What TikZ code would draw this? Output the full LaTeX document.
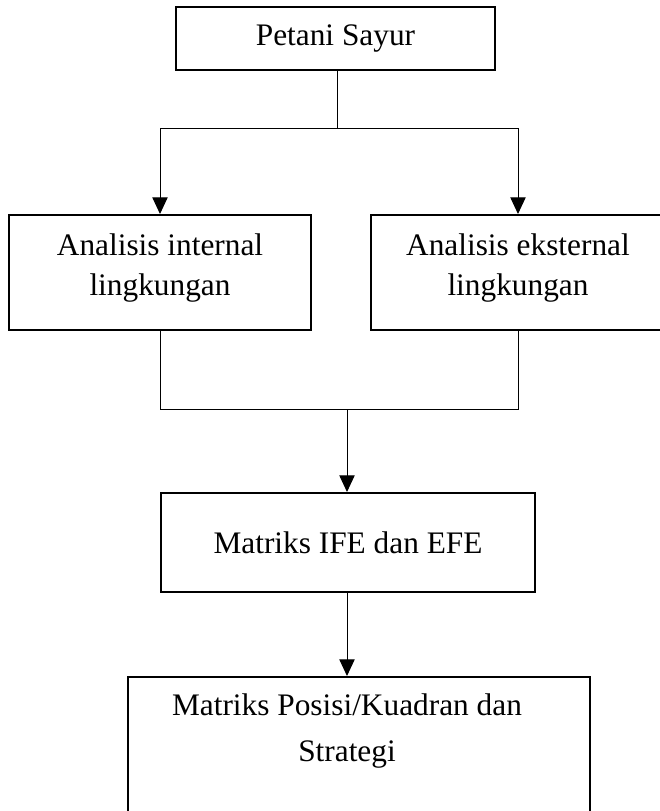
\documentclass[tikz,border=0pt]{standalone}
\usepackage{fontspec}
\setmainfont{Liberation Serif}
\usetikzlibrary{arrows.meta}
\begin{document}
\begin{tikzpicture}[x=0.75pt,y=-0.75pt,
  box/.style={draw, line width=1.5pt, inner sep=0pt, align=center,
    font=\fontsize{23.5pt}{30pt}\selectfont},
  conn/.style={line width=0.75pt},
  arr/.style={conn, -{Triangle[length=12.5pt,width=11.5pt]}},
  lbl/.style={inner sep=0pt, align=center,
    font=\fontsize{23.5pt}{34.5pt}\selectfont}]
\useasboundingbox (0,0) rectangle (660,811);
% boxes
\node[box, minimum width=319*0.75pt, minimum height=63*0.75pt] (b1) at (335.5,38.5) {Petani Sayur};
\node[box, minimum width=302*0.75pt, minimum height=115*0.75pt, text depth=12pt] (b2) at (160,272.5) {Analisis internal\\lingkungan};
\node[box, minimum width=294*0.75pt, minimum height=115*0.75pt, text depth=12pt] (b3) at (518,272.5) {Analisis eksternal\\lingkungan};
\node[box, minimum width=374*0.75pt, minimum height=99*0.75pt] (b4) at (348,542.5) {Matriks IFE dan EFE};
\node[box, minimum width=462*0.75pt, minimum height=138*0.75pt] (b5) at (359,746) {};
\node[lbl] (t5) at (347,731) {Matriks Posisi/Kuadran dan\\Strategi};
% junctions
\coordinate (j1) at (337,128);
\coordinate (j1l) at (160,128);
\coordinate (j1r) at (518,128);
\coordinate (j2) at (347,409);
\coordinate (j2l) at (160,409);
\coordinate (j2r) at (518,409);
% connectors
\draw[conn] (b1.south -| j1) -- (j1);
\draw[conn] (j1l) -- (j1r);
\draw[arr] (j1l) -- (b2.north);
\draw[arr] (j1r) -- (b3.north);
\draw[conn] (b2.south) -- (j2l) -- (j2r) -- (b3.south);
\draw[arr] (j2) -- (j2 |- b4.north);
\draw[arr] (b4.south -| j2) -- (j2 |- b5.north);
\end{tikzpicture}
\end{document}
